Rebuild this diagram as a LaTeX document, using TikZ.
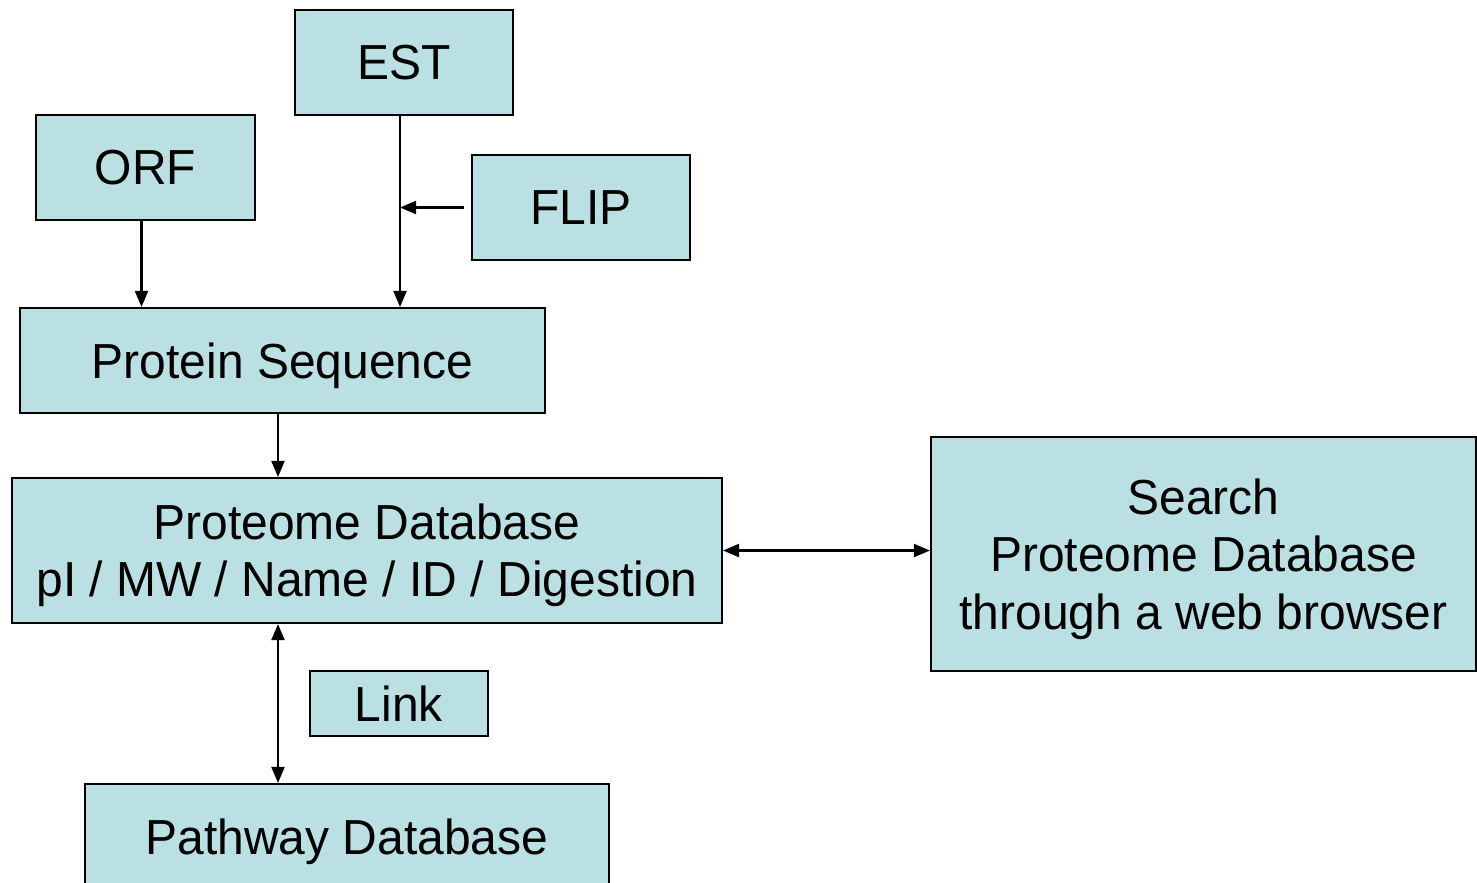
\documentclass[tikz,border=0pt]{standalone}
\usepackage{fontspec}
\setmainfont[FakeStretch=0.975]{Liberation Sans}
\usepackage{tikz}
\usepackage{xcolor}
\usetikzlibrary{arrows.meta,positioning,calc}

\definecolor{boxfill}{HTML}{BAE0E3}
\tikzset{
    blk/.style={draw=black, line width=0.6pt, fill=boxfill, align=center, inner sep=0pt,
        text depth=0pt, font=\fontsize{14}{16.3}\selectfont},
    arr/.style={line width=0.6pt, -{Triangle[length=1.6mm,width=1.3mm]}},
    darr/.style={line width=0.6pt, {Triangle[length=1.6mm,width=1.3mm]}-{Triangle[length=1.6mm,width=1.3mm]}}
}

\begin{document}
\begin{tikzpicture}
    \useasboundingbox (0,0) rectangle (14.77,-8.82);

    % Sources
    \node[blk, minimum width=2.18cm, minimum height=1.05cm] (est) at (4.04,-0.625) {EST};
    \node[blk, minimum width=2.19cm, minimum height=1.05cm] (orf) at (1.455,-1.675) {ORF};
    \node[blk, minimum width=2.18cm, minimum height=1.05cm] (flip) at (5.81,-2.075) {FLIP};

    % Sequence and databases
    \node[blk, minimum width=5.25cm, minimum height=1.05cm] (protseq) at (2.825,-3.605) {Protein Sequence};
    \node[blk, minimum width=7.10cm, minimum height=1.45cm] (proteome) at (3.67,-5.505)
        {Proteome Database\\pI / MW / Name / ID / Digestion};
    \node[blk, minimum width=5.45cm, minimum height=2.34cm] (search) at (12.035,-5.54)
        {Search\\Proteome Database\\through a web browser};
    \node[blk, minimum width=1.78cm, minimum height=0.65cm] (link) at (3.99,-7.035) {Link};
    \node[blk, minimum width=5.24cm, minimum height=1.06cm] (pathway) at (3.47,-8.37) {Pathway Database};

    % Connectors
    \draw[arr] ([xshift=-0.04cm]orf.south) -- ([xshift=-0.04cm]orf.south |- protseq.north);
    \draw[arr] ([xshift=-0.04cm]est.south) -- ([xshift=-0.04cm]est.south |- protseq.north);
    \draw[arr] ([xshift=-0.07cm]flip.west) -- ([xshift=-0.04cm]flip.west -| est.south);
    \draw[arr] ([xshift=-0.045cm]protseq.south) -- ([xshift=-0.045cm]protseq.south |- proteome.north);
    \draw[darr] (proteome.east) -- (search.west |- proteome.east);
    \draw[darr] ([xshift=-0.045cm]proteome.south -| protseq.south) -- ([xshift=-0.045cm]pathway.north -| protseq.south);
\end{tikzpicture}
\end{document}
